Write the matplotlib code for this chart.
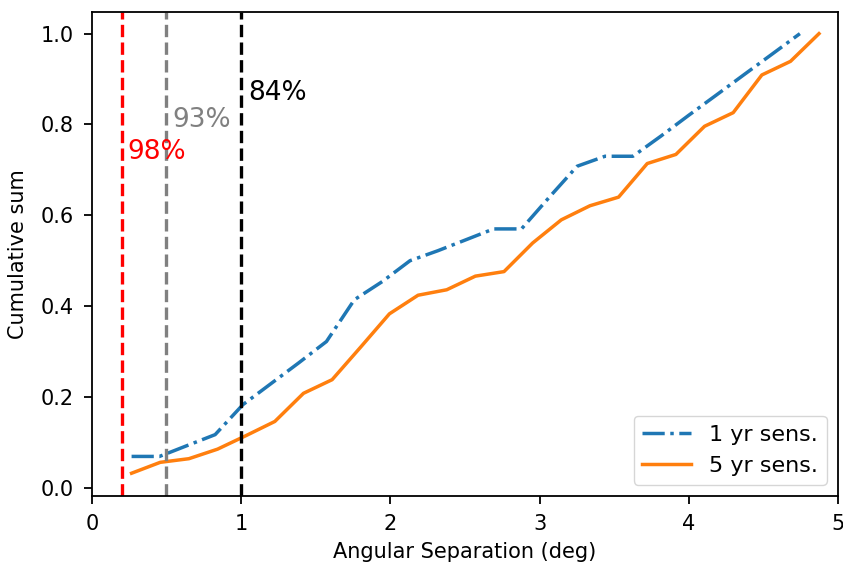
import matplotlib
matplotlib.use("Agg")
import matplotlib.pyplot as plt

# cumulative sums
x_1yr = [0.266, 0.453, 0.639, 0.826, 1.012, 1.199, 1.386, 1.572, 1.759, 1.946,
         2.132, 2.319, 2.506, 2.692, 2.879, 3.066, 3.252, 3.439, 3.626, 3.812,
         3.999, 4.186, 4.372, 4.559, 4.745]
y_1yr = [0.069, 0.069, 0.093, 0.117, 0.183, 0.229, 0.275, 0.322, 0.414, 0.454,
         0.500, 0.522, 0.546, 0.570, 0.570, 0.640, 0.708, 0.730, 0.730, 0.774,
         0.820, 0.865, 0.910, 0.955, 1.000]

x_5yr = [0.266, 0.458, 0.650, 0.842, 1.034, 1.226, 1.418, 1.610, 1.802, 1.994,
         2.186, 2.378, 2.570, 2.762, 2.954, 3.146, 3.338, 3.530, 3.722, 3.914,
         4.106, 4.298, 4.490, 4.682, 4.873]
y_5yr = [0.032, 0.056, 0.064, 0.085, 0.115, 0.146, 0.208, 0.238, 0.310, 0.383,
         0.424, 0.436, 0.466, 0.476, 0.539, 0.590, 0.621, 0.640, 0.714, 0.734,
         0.796, 0.826, 0.909, 0.939, 1.000]

# vertical markers
vlines = [0.2, 0.5, 1.0]
vcolors = ["red", "gray", "black"]
vlabels = ["98%", "93%", "84%"]
label_pos = [(0.24, 0.74), (0.54, 0.81), (1.05, 0.87)]

fig = plt.figure(figsize=(8.43, 5.64), dpi=100)
ax = fig.add_axes([0.109, 0.121, 0.885, 0.858])

ax.plot(x_1yr, y_1yr, "-.", color="#1f77b4", lw=2.5, label="1 yr sens.")
ax.plot(x_5yr, y_5yr, "-", color="#ff7f0e", lw=2.5, label="5 yr sens.")

for xv, c, lab, (tx, ty) in zip(vlines, vcolors, vlabels, label_pos):
    ax.axvline(xv, color=c, ls="--", lw=2.4)
    ax.text(tx, ty, lab, color=c, fontsize=19, va="center", ha="left")

ax.set_xlim(0, 5)
ax.set_ylim(-0.0176, 1.048)
ax.set_xlabel("Angular Separation (deg)", fontsize=15, labelpad=6)
ax.set_ylabel("Cumulative sum", fontsize=15, labelpad=9)
ax.tick_params(labelsize=15, width=1.3, length=6, pad=7)
for s in ax.spines.values():
    s.set_linewidth(1.3)
ax.legend(loc="lower right", fontsize=16, handlelength=2.2)

fig.savefig("out.png", dpi=100)
